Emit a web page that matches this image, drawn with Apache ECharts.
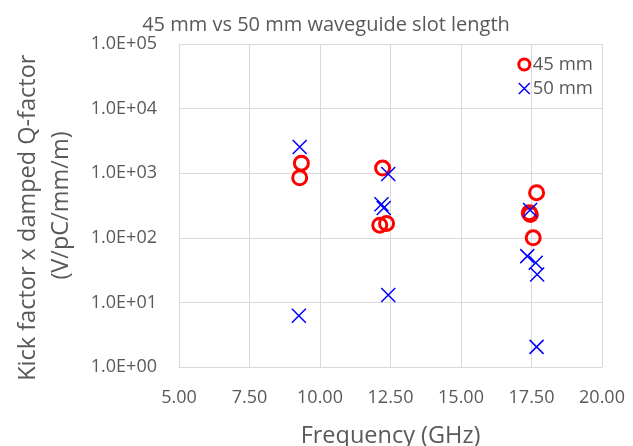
<!DOCTYPE html>
<html>
<head>
<meta charset="utf-8">
<script src="https://cdn.jsdelivr.net/npm/echarts@6/dist/echarts.min.js"></script>
<style>
  html, body { margin: 0; padding: 0; background: #fff; }
  #scatterChart { width: 633px; height: 446px; }
</style>
</head>
<body>
<div id="scatterChart"></div>
<script>
  // 45 mm slot length (red circles)
  let freq45 = [9.34, 9.28, 12.22, 12.12, 12.36, 17.68, 17.42, 17.46, 17.56]
  let kick45 = [1430, 850, 1200, 157, 167, 500, 245, 230, 100]
  // 50 mm slot length (blue crosses)
  let freq50 = [9.28, 9.25, 12.42, 12.18, 12.26, 12.42, 17.45, 17.35, 17.65, 17.70, 17.68]
  let kick50 = [2550, 6.2, 970, 330, 290, 13, 270, 52, 41, 27, 2.05]
  let xTicks = [5, 7.5, 10, 12.5, 15, 17.5, 20]
  let yTicks = [1, 10, 100, 1000, 10000, 100000]

  let textColor = '#595959'
  let gridColor = '#d9d9d9'
  let fontName = 'Open Sans'
  let crossPath = 'path://M0,0L10,10M10,0L0,10'

  function pairs(xs, ys) {
    return xs.map((x, i) => [x, ys[i]])
  }

  const option = {
    backgroundColor: '#ffffff',
    textStyle: {
      fontFamily: fontName
    },
    title: {
      text: '45 mm vs 50 mm waveguide slot length',
      left: 321,
      top: 10,
      textAlign: 'center',
      textStyle: {
        color: textColor,
        fontSize: 20,
        fontWeight: 'normal',
        fontFamily: fontName
      }
    },
    legend: {
      orient: 'vertical',
      right: 40,
      top: 55,
      padding: 0,
      itemGap: 5,
      itemWidth: 11,
      itemHeight: 11,
      textStyle: {
        color: textColor,
        fontSize: 18.5,
        lineHeight: 16,
        padding: [0, 0, 0, -2]
      },
      data: [{
          name: '45 mm',
          icon: 'circle',
          itemStyle: {
            color: 'transparent',
            borderColor: '#ff0000',
            borderWidth: 3
          }
        },
        {
          name: '50 mm',
          icon: crossPath,
          itemStyle: {
            color: 'transparent',
            borderColor: '#0000ff',
            borderWidth: 1.5
          }
        }
      ]
    },
    grid: {
      left: 179,
      right: 31,
      top: 44,
      bottom: 79,
      containLabel: false,
      outerBoundsMode: 'none'
    },
    xAxis: {
      type: 'value',
      min: xTicks[0],
      max: xTicks[xTicks.length - 1],
      interval: 2.5,
      name: 'Frequency (GHz)',
      nameLocation: 'middle',
      nameGap: 57,
      nameTextStyle: {
        color: textColor,
        fontSize: 23.5
      },
      axisLine: {
        show: true,
        lineStyle: {
          color: gridColor
        }
      },
      axisTick: {
        show: false
      },
      axisLabel: {
        color: textColor,
        fontSize: 18,
        margin: 22,
        formatter: function (v) {
          return v.toFixed(2)
        }
      },
      splitLine: {
        show: true,
        lineStyle: {
          color: gridColor
        }
      }
    },
    yAxis: {
      type: 'log',
      logBase: 10,
      min: yTicks[0],
      max: yTicks[yTicks.length - 1],
      name: 'Kick factor x damped Q-factor\u00a0\u00a0\u00a0\u00a0\n(V/pC/mm/m)',
      nameLocation: 'middle',
      nameRotate: 90,
      nameGap: 101,
      nameTextStyle: {
        color: textColor,
        fontSize: 23.5,
        lineHeight: 33
      },
      axisLine: {
        show: true,
        lineStyle: {
          color: gridColor
        }
      },
      axisTick: {
        show: false
      },
      axisLabel: {
        color: textColor,
        fontSize: 18,
        margin: 22,
        formatter: function (v) {
          let p = Math.round(Math.log10(v))
          return '1.0E+' + String(p).padStart(2, '0')
        }
      },
      splitLine: {
        show: true,
        lineStyle: {
          color: gridColor
        }
      }
    },
    series: [{
        name: '45 mm',
        type: 'scatter',
        symbol: 'circle',
        symbolSize: 14,
        itemStyle: {
          color: 'transparent',
          borderColor: '#ff0000',
          borderWidth: 3,
          opacity: 1
        },
        data: pairs(freq45, kick45)
      },
      {
        name: '50 mm',
        type: 'scatter',
        symbol: crossPath,
        symbolSize: 14,
        itemStyle: {
          color: 'transparent',
          borderColor: '#0000ff',
          borderWidth: 1.5,
          opacity: 1
        },
        data: pairs(freq50, kick50)
      }
    ]
  }

  let chart = echarts.init(document.getElementById('scatterChart'), null, {
    renderer: 'canvas'
  })
  chart.setOption(option)
</script>
</body>
</html>
